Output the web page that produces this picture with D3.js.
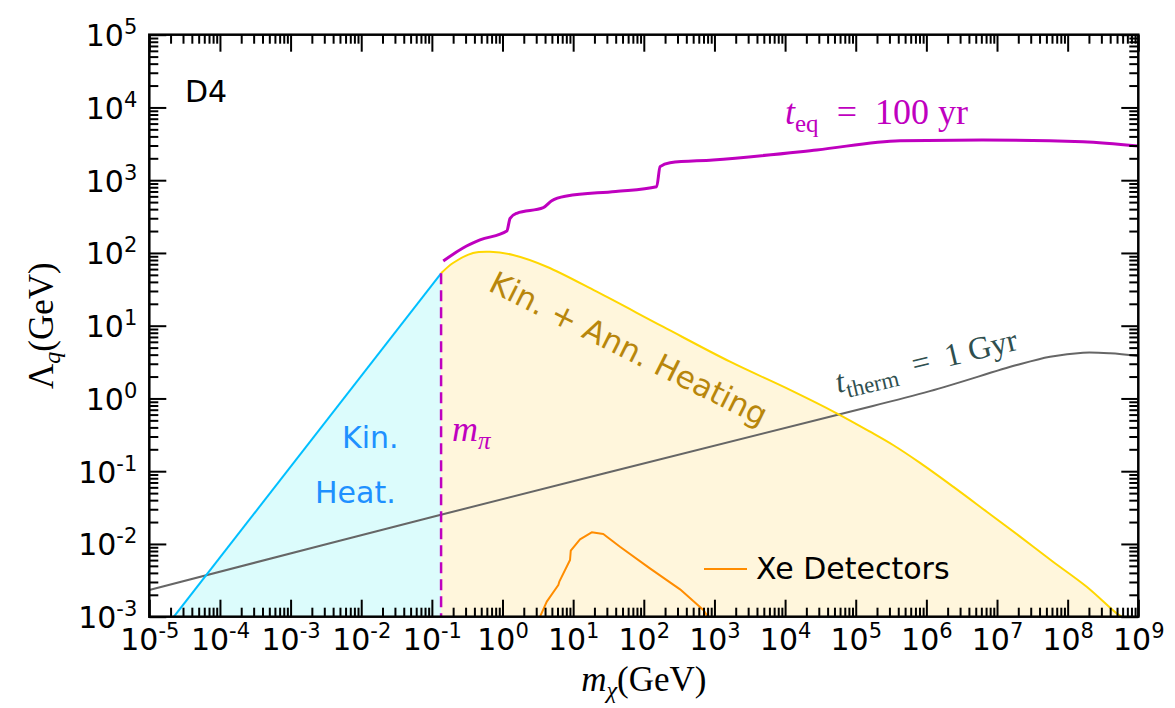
<!DOCTYPE html>
<html>
<head>
<meta charset="utf-8">
<script src="https://cdn.jsdelivr.net/npm/d3@7"></script>
<style>
  body { margin: 0; background: #ffffff; }
  svg { display: block; }
</style>
</head>
<body>
<svg id="chart" width="1175" height="708"></svg>
<script>
// ---- data -------------------------------------------------------------
const massDomain = [1e-5, 1e9];
const lambdaDomain = [1e-3, 1e5];
const xTickExponents = [-5, -4, -3, -2, -1, 0, 1, 2, 3, 4, 5, 6, 7, 8, 9];
const yTickExponents = [-3, -2, -1, 0, 1, 2, 3, 4, 5];

const mPion = 0.135;

// kinetic heating boundary (below the pion mass)
const kinMass   = [2.23e-5, mPion];
const kinLambda = [1e-3, 52.5];

// kinetic + annihilation heating boundary (above the pion mass)
const annMass   = [mPion, 0.199, 0.383, 0.665, 1.41, 4.23, 21.6, 187, 1663, 11750,
                   53830, 159600, 337500, 814000, 2.39e6, 7.16e6, 2.12e7, 6.2e7,
                   1.86e8, 4.95e8, 5.82e8];
const annLambda = [52.5, 72.8, 99.8, 104, 93.7, 64.7, 29.3, 9.69, 3.20, 1.31,
                   0.625, 0.349, 0.229, 0.130, 0.0613, 0.0277, 0.0126, 0.0057,
                   0.00258, 0.00111, 0.00100];

// t_eq = 100 yr contour
const eqMass   = [0.145, 0.276, 0.480, 1.15, 1.28, 1.59, 3.78, 4.98, 8.11, 40, 152,
                  170, 235, 954, 28050, 4.24e5, 6.34e6, 1.65e8, 9.9e8];
const eqLambda = [77.4, 117, 151, 200, 299, 351, 419, 523, 607, 700, 814,
                  1534, 1741, 1897, 2603, 3490, 3570, 3384, 2950];

// t_therm = 1 Gyr contour
const thermMass   = [1e-5, 0.13, 53830, 1.12e6, 1.9e7, 5.64e7, 1.65e8, 3.98e8, 9.93e8];
const thermLambda = [0.00233, 0.025, 0.593, 1.26, 2.88, 3.75, 4.26, 4.18, 3.84];

// Xe detector reach
const xeMass   = [3.40, 4.23, 6.17, 6.37, 9.03, 9.25, 12.5, 18.3, 26.7, 46.0, 122,
                  326, 697, 778, 811];
const xeLambda = [0.00100, 0.00161, 0.00273, 0.00303, 0.00601, 0.00807, 0.01158,
                  0.01445, 0.0137, 0.00916, 0.00462, 0.00238, 0.00124, 0.00105, 0.00100];

// ---- layout & scales --------------------------------------------------
const svg = d3.select("#chart");
const L = 149.3, R = 1138.3, T = 34.7, B = 616.7;

const x = d3.scaleLog().domain(massDomain).range([L, R]);
const y = d3.scaleLog().domain(lambdaDomain).range([B, T]);

const C = {
  magenta: "#bf00bf",
  cyan: "#00bfff",
  cyanFill: "#dcfcfc",
  gold: "#ffd700",
  goldFill: "#fff6dc",
  gray: "#666666",
  orange: "#ff8c00",
  blueText: "#1e90ff",
  goldText: "#b8860b",
  slate: "#2f4f4f"
};
const SANS = "'DejaVu Sans', sans-serif";
const SERIF = "'Liberation Serif', 'DejaVu Serif', serif";

svg.append("defs").append("clipPath").attr("id", "plot-clip")
  .append("rect").attr("x", L).attr("y", T).attr("width", R - L).attr("height", B - T);

const plot = svg.append("g").attr("clip-path", "url(#plot-clip)");
const zip = (xs, ys) => xs.map((d, i) => [d, ys[i]]);
const smooth = d3.curveCatmullRom.alpha(0.5);

// ---- shaded regions ---------------------------------------------------
const area = d3.area().x(d => x(d[0])).y0(y(lambdaDomain[0])).y1(d => y(d[1]));
plot.append("path")
  .datum(zip(kinMass, kinLambda))
  .attr("d", area.curve(d3.curveLinear))
  .attr("fill", C.cyanFill);
plot.append("path")
  .datum(zip(annMass, annLambda))
  .attr("d", area.curve(smooth))
  .attr("fill", C.goldFill);

// ---- lines ------------------------------------------------------------
const line = d3.line().x(d => x(d[0])).y(d => y(d[1]));

plot.append("path").datum(zip(thermMass, thermLambda))
  .attr("d", line.curve(smooth))
  .attr("fill", "none").attr("stroke", C.gray).attr("stroke-width", 2);

plot.append("path").datum(zip(kinMass, kinLambda))
  .attr("d", line.curve(d3.curveLinear))
  .attr("fill", "none").attr("stroke", C.cyan).attr("stroke-width", 2);

plot.append("path").datum(zip(annMass, annLambda))
  .attr("d", line.curve(smooth))
  .attr("fill", "none").attr("stroke", C.gold).attr("stroke-width", 2);

plot.append("path").datum(zip(xeMass, xeLambda))
  .attr("d", line.curve(d3.curveLinear))
  .attr("fill", "none").attr("stroke", C.orange).attr("stroke-width", 2)
  .attr("stroke-linejoin", "round");

plot.append("path").datum(zip(eqMass, eqLambda))
  .attr("d", line.curve(d3.curveMonotoneX))
  .attr("fill", "none").attr("stroke", C.magenta).attr("stroke-width", 3);

// pion mass threshold
plot.append("line")
  .attr("x1", x(mPion)).attr("x2", x(mPion))
  .attr("y1", y(annLambda[0])).attr("y2", y(lambdaDomain[0]))
  .attr("stroke", C.magenta).attr("stroke-width", 2.5)
  .attr("stroke-dasharray", "11,6");

// ---- annotations ------------------------------------------------------
const ann = svg.append("g");

ann.append("text").attr("x", 185).attr("y", 101.5)
  .attr("font-family", SANS).attr("font-size", 30).attr("fill", "#000").text("D4");

ann.append("text").attr("x", 342).attr("y", 448)
  .attr("font-family", SANS).attr("font-size", 30).attr("fill", C.blueText).text("Kin.");
ann.append("text").attr("x", 315).attr("y", 503)
  .attr("font-family", SANS).attr("font-size", 30).attr("fill", C.blueText).text("Heat.");

ann.append("text")
  .attr("transform", "translate(487,290) rotate(26.5)")
  .attr("font-family", SANS).attr("font-size", 31).attr("fill", C.goldText)
  .text("Kin. + Ann. Heating");

// m_pi
const mpi = ann.append("text").attr("x", 452).attr("y", 441)
  .attr("font-family", SERIF).attr("font-size", 36).attr("fill", C.magenta);
mpi.append("tspan").attr("font-style", "italic").text("m");
mpi.append("tspan").attr("font-style", "italic").attr("font-size", 25).attr("dy", 8).text("π");

// t_eq label
const teq = ann.append("text").attr("x", 785).attr("y", 124)
  .attr("font-family", SERIF).attr("font-size", 36).attr("fill", C.magenta);
teq.append("tspan").attr("font-style", "italic").text("t");
teq.append("tspan").attr("font-size", 25).attr("dy", 8).text("eq");
teq.append("tspan").attr("dy", -8).text("\u2002=\u2002100 yr");

// t_therm label
const tth = ann.append("text")
  .attr("transform", "translate(838,393) rotate(-13.5)")
  .attr("font-family", SERIF).attr("font-size", 32).attr("fill", C.slate);
tth.append("tspan").attr("font-style", "italic").text("t");
tth.append("tspan").attr("font-size", 23).attr("dy", 7).text("therm");
tth.append("tspan").attr("dy", -7).text("\u2002=\u20021 Gyr");

// legend
const legend = svg.append("g");
legend.append("line").attr("x1", 704).attr("x2", 747).attr("y1", 569).attr("y2", 569)
  .attr("stroke", C.orange).attr("stroke-width", 2);
legend.append("text").attr("x", 756).attr("y", 579)
  .attr("font-family", SANS).attr("font-size", 30).attr("fill", "#000").text("Xe Detectors");

// ---- axes -------------------------------------------------------------
const xMajor = xTickExponents.map(e => Math.pow(10, e));
const yMajor = yTickExponents.map(e => Math.pow(10, e));
const minorOf = (exps) => {
  const out = [];
  for (let i = 0; i < exps.length - 1; i++)
    for (let k = 2; k <= 9; k++) out.push(k * Math.pow(10, exps[i]));
  return out;
};
const xMinor = minorOf(xTickExponents);
const yMinor = minorOf(yTickExponents);

function styleTicks(g) {
  g.select(".domain").remove();
  g.selectAll(".tick line").attr("stroke", "#000").attr("stroke-width", 2);
}
function powerLabel(sel, exps) {
  sel.each(function (d, i) {
    const t = d3.select(this);
    t.text(null);
    t.append("tspan").text("10");
    t.append("tspan").attr("font-size", 21).attr("dy", -12).text(String(exps[i]));
  });
}

// bottom
const gxb = svg.append("g").attr("transform", `translate(0,${B})`);
gxb.append("g").call(d3.axisBottom(x).tickValues(xMinor).tickSize(-9).tickFormat("")).call(styleTicks);
const gxbMaj = gxb.append("g").call(d3.axisBottom(x).tickValues(xMajor).tickSize(-17)).call(styleTicks);
gxbMaj.selectAll(".tick text")
  .attr("y", 33.5).attr("dy", 0)
  .attr("font-family", SANS).attr("font-size", 30).attr("fill", "#000")
  .call(powerLabel, xTickExponents);

// top
const gxt = svg.append("g").attr("transform", `translate(0,${T})`);
gxt.append("g").call(d3.axisTop(x).tickValues(xMinor).tickSize(-9).tickFormat("")).call(styleTicks);
gxt.append("g").call(d3.axisTop(x).tickValues(xMajor).tickSize(-17).tickFormat("")).call(styleTicks);

// left
const gyl = svg.append("g").attr("transform", `translate(${L},0)`);
gyl.append("g").call(d3.axisLeft(y).tickValues(yMinor).tickSize(-9).tickFormat("")).call(styleTicks);
const gylMaj = gyl.append("g").call(d3.axisLeft(y).tickValues(yMajor).tickSize(-17)).call(styleTicks);
gylMaj.selectAll(".tick text")
  .attr("x", -12).attr("dy", 0).attr("y", 11)
  .attr("text-anchor", "end")
  .attr("font-family", SANS).attr("font-size", 30).attr("fill", "#000")
  .call(powerLabel, yTickExponents);

// right
const gyr = svg.append("g").attr("transform", `translate(${R},0)`);
gyr.append("g").call(d3.axisRight(y).tickValues(yMinor).tickSize(-9).tickFormat("")).call(styleTicks);
gyr.append("g").call(d3.axisRight(y).tickValues(yMajor).tickSize(-17).tickFormat("")).call(styleTicks);

// frame
svg.append("rect").attr("x", L).attr("y", T).attr("width", R - L).attr("height", B - T)
  .attr("fill", "none").attr("stroke", "#000").attr("stroke-width", 2.5);

// axis titles
const xt = svg.append("text").attr("x", (L + R) / 2).attr("y", 691)
  .attr("text-anchor", "middle").attr("font-family", SERIF).attr("font-size", 35).attr("fill", "#000");
xt.append("tspan").attr("font-style", "italic").text("m");
xt.append("tspan").attr("font-style", "italic").attr("font-size", 24).attr("dy", 7).text("χ");
xt.append("tspan").attr("dy", -7).text("(GeV)");

const yt = svg.append("text").attr("transform", `translate(53,${(T + B) / 2}) rotate(-90)`)
  .attr("text-anchor", "middle").attr("font-family", SERIF).attr("font-size", 35).attr("fill", "#000");
yt.append("tspan").text("Λ");
yt.append("tspan").attr("font-style", "italic").attr("font-size", 24).attr("dy", 7).text("q");
yt.append("tspan").attr("dy", -7).text("(GeV)");
</script>
</body>
</html>
